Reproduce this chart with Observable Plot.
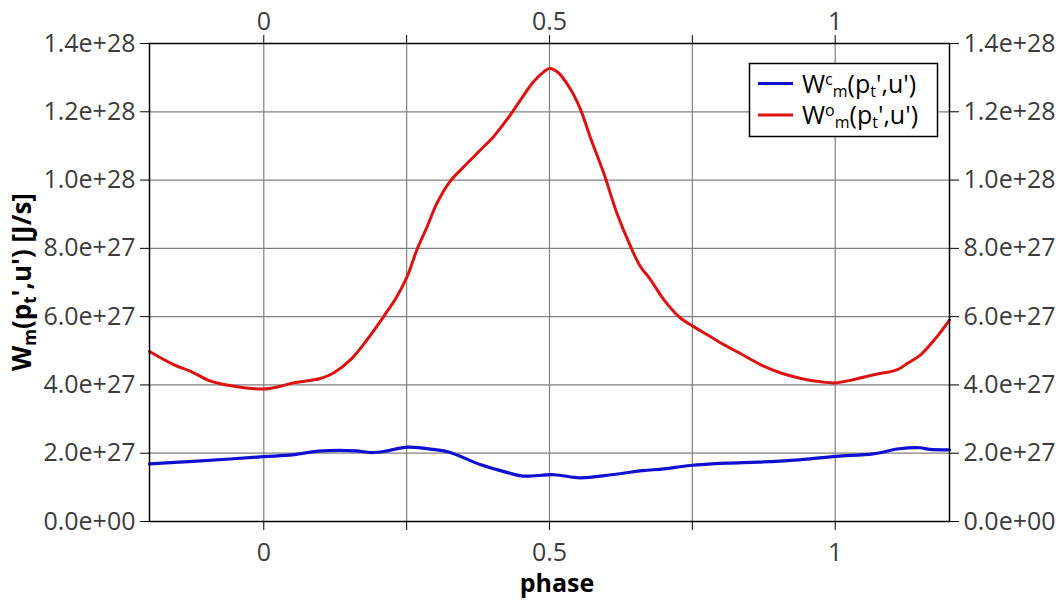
<!DOCTYPE html>
<html><head><meta charset="utf-8">
<script src="https://cdn.jsdelivr.net/npm/d3@7"></script>
<script src="https://cdn.jsdelivr.net/npm/@observablehq/plot@0.6"></script>
<style>
body{margin:0;background:#fff;}
</style>
</head><body><div id="chart"></div>
<script>
// values in units of 1e27 J/s
const phaseRed = [-0.2,-0.157,-0.128,-0.093,-0.052,0,0.029,0.052,0.099,0.122,0.152,0.181,0.210,0.233,0.251,0.268,0.286,0.303,0.326,0.350,0.379,0.402,0.425,0.449,0.472,0.490,0.5,0.515,0.536,0.554,0.571,0.595,0.618,0.642,0.659,0.677,0.700,0.729,0.75,0.776,0.805,0.834,0.870,0.905,0.940,0.975,1.0,1.033,1.068,1.109,1.127,1.150,1.174,1.2];
const wRed = [4.98,4.59,4.40,4.11,3.96,3.88,3.96,4.06,4.19,4.35,4.74,5.33,6.01,6.59,7.18,7.96,8.64,9.32,9.96,10.39,10.88,11.27,11.76,12.34,12.88,13.17,13.27,13.15,12.68,12.08,11.27,10.20,9.03,8.05,7.47,7.08,6.50,5.96,5.73,5.47,5.18,4.92,4.59,4.35,4.19,4.09,4.06,4.16,4.30,4.45,4.64,4.89,5.33,5.90];
const phaseBlue = [-0.2,-0.124,-0.059,0,0.05,0.096,0.160,0.188,0.210,0.252,0.297,0.325,0.380,0.425,0.453,0.508,0.554,0.608,0.663,0.700,0.746,0.810,0.865,0.929,1.002,1.066,1.112,1.148,1.166,1.2];
const wBlue = [1.69,1.76,1.83,1.90,1.95,2.06,2.07,2.02,2.05,2.18,2.11,2.03,1.66,1.44,1.33,1.37,1.28,1.37,1.49,1.54,1.64,1.71,1.74,1.80,1.91,1.98,2.13,2.16,2.11,2.10];
const xTicks = [0,0.25,0.5,0.75,1];
const xTickLabels = ["0","","0.5","","1"];
const yTicks = [0,2e27,4e27,6e27,8e27,1e28,1.2e28,1.4e28];
const colors = ["#1010d0","#dd1212"];

const scale = 1e27;
const red = phaseRed.map((p,i)=>({phase:p, w:wRed[i]*scale}));
const blue = phaseBlue.map((p,i)=>({phase:p, w:wBlue[i]*scale}));
const xLab = new Map(xTicks.map((t,i)=>[t,xTickLabels[i]]));
const fmtY = v => d3.format(".1e")(v).replace(/e([+-])(\d)$/, "e$10$2");

const axisCommon = {tickSize:9, fontSize:25, fill:"#3c3c3c", stroke:"#000", label:null};
const plot = Plot.plot({
  width:1064, height:604,
  marginLeft:149, marginRight:115, marginTop:43, marginBottom:83,
  style:{fontFamily:"'Open Sans', sans-serif", background:"#fff", overflow:"visible"},
  x:{domain:[-0.2,1.2]},
  y:{domain:[0,1.4e28]},
  marks:[
    Plot.gridX(xTicks,{stroke:"#808080", strokeOpacity:1, strokeWidth:1.2}),
    Plot.gridY(yTicks,{stroke:"#808080", strokeOpacity:1, strokeWidth:1.2}),
    Plot.line(blue,{x:"phase", y:"w", stroke:colors[0], strokeWidth:3.2, curve:"catmull-rom"}),
    Plot.line(red,{x:"phase", y:"w", stroke:colors[1], strokeWidth:3, curve:"catmull-rom"}),
    Plot.frame({stroke:"#000", strokeWidth:1.5}),
    Plot.axisY(yTicks,{...axisCommon, anchor:"left", tickFormat:fmtY, tickPadding:5}),
    Plot.axisY(yTicks,{...axisCommon, anchor:"right", tickFormat:fmtY, tickPadding:5}),
    Plot.axisX(xTicks,{...axisCommon, anchor:"bottom", tickFormat:d=>xLab.get(d), tickPadding:13}),
    Plot.axisX(xTicks,{...axisCommon, anchor:"top", tickFormat:d=>xLab.get(d), tickPadding:5})
  ]
});
document.getElementById("chart").appendChild(plot);

const svg = d3.select(plot);
// x axis title
svg.append("text").attr("x",557).attr("y",592).attr("text-anchor","middle")
  .style("font-size","25px").attr("font-weight","bold").attr("fill","#000").text("phase");
// y axis title
const yt = svg.append("text").attr("transform","translate(31,282) rotate(-90)")
  .attr("text-anchor","middle").style("font-size","26px").attr("font-weight","bold").attr("fill","#000");
yt.append("tspan").text("W");
yt.append("tspan").style("font-size","17px").attr("dy",5).text("m");
yt.append("tspan").attr("dy",-5).text("(p");
yt.append("tspan").style("font-size","17px").attr("dy",5).text("t");
yt.append("tspan").attr("dy",-5).text("',u') [J/s]");

// legend
const lg = svg.append("g");
lg.append("rect").attr("x",749.5).attr("y",63.5).attr("width",188).attr("height",73)
  .attr("fill","#fff").attr("stroke","#000").attr("stroke-width",1.5);
const names = [["W","c"],["W","o"]];
names.forEach((n,i)=>{
  const cy = 83.5 + i*31.5;
  lg.append("line").attr("x1",758).attr("x2",793).attr("y1",cy).attr("y2",cy)
    .attr("stroke",colors[i]).attr("stroke-width",3);
  const t = lg.append("text").attr("x",802).attr("y",cy+9).attr("text-anchor","start")
    .style("font-size","25px").attr("fill","#000");
  t.append("tspan").text(n[0]);
  t.append("tspan").style("font-size","16px").attr("dy",-8).text(n[1]);
  t.append("tspan").style("font-size","16px").attr("dy",12).text("m");
  t.append("tspan").attr("dy",-4).text("(p");
  t.append("tspan").style("font-size","16px").attr("dy",4).text("t");
  t.append("tspan").attr("dy",-4).text("',u')");
});
</script>
</body></html>
